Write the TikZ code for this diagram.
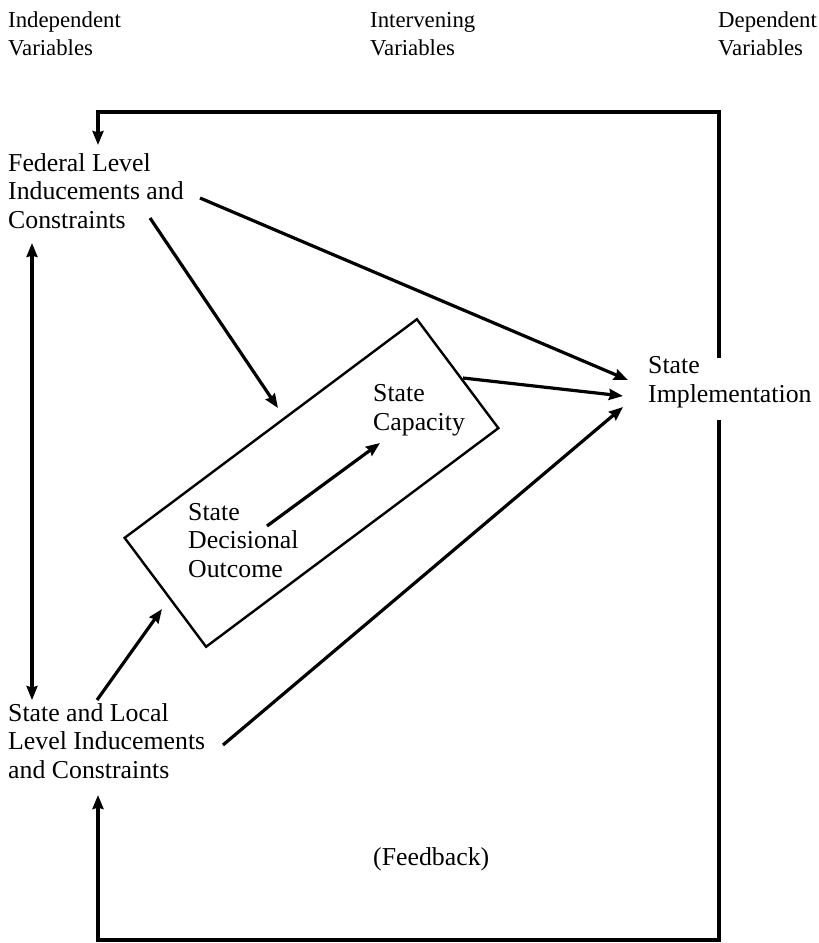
\documentclass[tikz,border=0pt]{standalone}
\usepackage{fontspec}
\setmainfont{Liberation Serif}
\usetikzlibrary{arrows.meta}
\begin{document}
\begin{tikzpicture}[x=1pt,y=-1pt,
  lbl/.style={font=\fontsize{25.8}{28.5}\selectfont, inner sep=0pt, align=left, anchor=base west},
  hdr/.style={lbl, font=\fontsize{22.8}{28}\selectfont},
  conn/.style={line width=3.2pt, -{Stealth[length=14pt,width=11pt,inset=1.5pt]}},
  dconn/.style={line width=3.2pt, {Stealth[length=14pt,width=11pt,inset=1.5pt]}-{Stealth[length=14pt,width=11pt,inset=1.5pt]}},
  boxstyle/.style={draw, line width=2.4pt, rotate=36.8, minimum width=365pt, minimum height=136pt, inner sep=0pt}]
\useasboundingbox (0,0) rectangle (819,943);

% headers (anchor = baseline of the last line)
\node[hdr] (hind) at (8,55) {Independent\\Variables};
\node[hdr] (hint) at (370,55) {Intervening\\Variables};
\node[hdr] (hdep) at (718,55) {Dependent\\Variables};

% main labels
\node[lbl] (fed) at (8,228) {Federal Level\\Inducements and\\Constraints};
\node[lbl] (loc) at (8,778) {State and Local\\Level Inducements\\and Constraints};
\node[lbl] (impl) at (648,402) {State\\Implementation};
\node[boxstyle] (box) at (311.5,483) {};
\node[lbl] (cap) at (373,430) {State\\Capacity};
\node[lbl] (dec) at (188,577) {State\\Decisional\\Outcome};
\node[lbl] (fb) at (373,865) {(Feedback)};

% connector ends
\coordinate (fedA) at (200,198);
\coordinate (fedB) at (150,218);
\coordinate (fedTop) at (98,145);
\coordinate (implA) at (628,380);
\coordinate (implB) at (623,396);
\coordinate (implC) at (623,407);
\coordinate (boxA) at (278,408);
\coordinate (boxB) at (162,609);
\coordinate (boxOut) at (463,378);
\coordinate (decA) at (267,526);
\coordinate (capA) at (380,443);
\coordinate (locA) at (97,700);
\coordinate (locB) at (223,745);
\coordinate (locBot) at (98,795);
\coordinate (dblTop) at (32,243);
\coordinate (dblBot) at (32,700);
\coordinate (fbTop) at (719,358);
\coordinate (fbBot) at (719,420);

% connectors
\draw[conn] (fedA) -- (implA);
\draw[conn] (fedB) -- (boxA);
\draw[conn] (boxOut) -- (implB);
\draw[conn] (locB) -- (implC);
\draw[conn] (locA) -- (boxB);
\draw[conn] (decA) -- (capA);
\draw[dconn] (dblTop) -- (dblBot);

% feedback loops
\draw[conn] (fbTop) -- (719,112) -- (98,112) -- (fedTop);
\draw[conn] (fbBot) -- (719,940) -- (98,940) -- (locBot);
\end{tikzpicture}
\end{document}
